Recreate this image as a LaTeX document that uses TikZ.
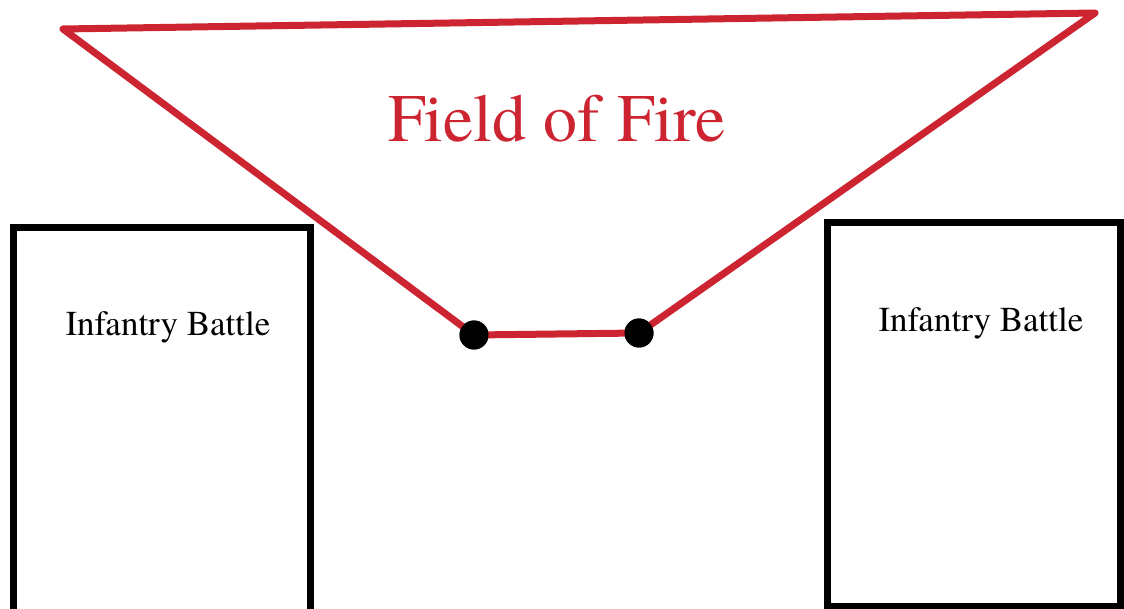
\documentclass[tikz,border=0pt]{standalone}
\usepackage{fontspec}
\newfontfamily\timesfont{texgyretermes-regular.otf}
\definecolor{firered}{RGB}{204,36,48}
\begin{document}
\begin{tikzpicture}[x=1pt,y=-1pt,
  fireline/.style={draw=firered,line width=7pt,line join=round},
  boxline/.style={draw=black,line width=7pt},
  gundot/.style={circle,fill=black,inner sep=0pt,minimum size=29pt},
  labeltext/.style={font=\timesfont\fontsize{35}{38}\selectfont,inner sep=0pt,anchor=base}]
\useasboundingbox (0,0) rectangle (1124,609);
% boxes
\draw[boxline] (13,620) -- (13,228) -- (310,228) -- (310,620);
\draw[boxline] (827,223) rectangle (1120.5,606);
% field of fire
\coordinate (tl) at (63,29);
\coordinate (tr) at (1095,13);
\node[gundot] (gl) at (474,335) {};
\node[gundot] (gr) at (639,333) {};
\draw[fireline] (tl) -- (tr) -- (gr.center) -- (gl.center) -- cycle;
\node[gundot] at (gl) {};
\node[gundot] at (gr) {};
\node[text=firered,font=\timesfont\fontsize{68}{72}\selectfont,inner sep=0pt,anchor=base] (fof) at (557,142) {Field of Fire};
\node[labeltext] (ibl) at (168,336) {Infantry Battle};
\node[labeltext] (ibr) at (981,332) {Infantry Battle};
\end{tikzpicture}
\end{document}
